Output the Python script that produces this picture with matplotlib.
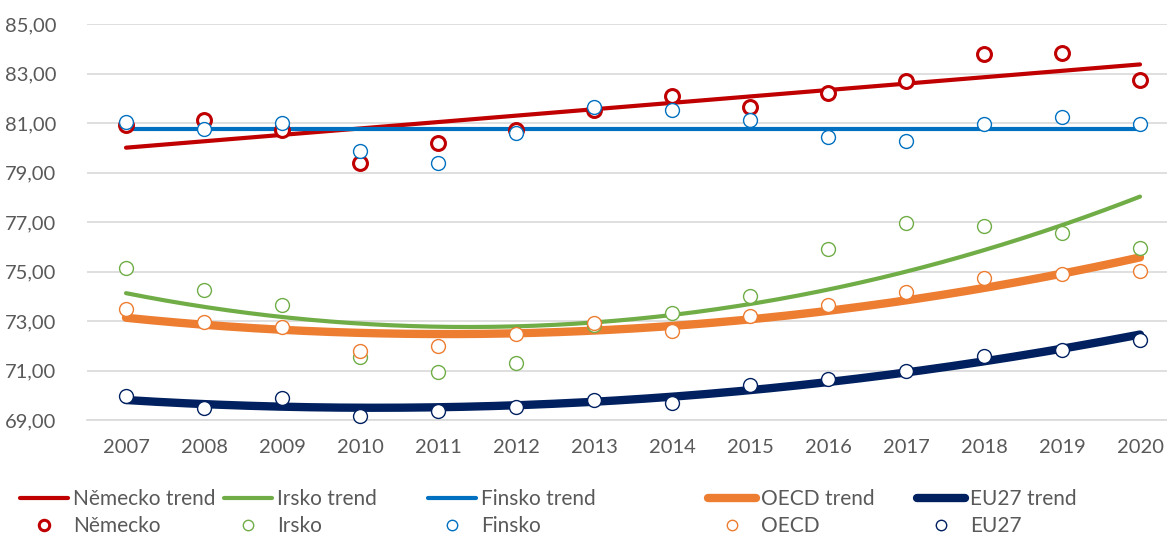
import numpy as np
import matplotlib.pyplot as plt
from matplotlib.ticker import FuncFormatter

plt.rcParams['font.family'] = ['Lato', 'DejaVu Sans']

years = np.arange(2007, 2021)

nemecko = [80.93, 81.13, 80.73, 79.38, 80.19, 80.73, 81.54,
           82.12, 81.67, 82.21, 82.70, 83.80, 83.84, 82.75]
irsko = [75.14, 74.24, 73.65, 71.55, 70.94, 71.30, 72.85,
         73.32, 74.00, 75.91, 76.95, 76.86, 76.58, 75.97]
finsko = [81.03, 80.75, 81.00, 79.89, 79.38, 80.60, 81.65,
          81.54, 81.13, 80.46, 80.30, 80.97, 81.24, 80.97]
oecd = [73.48, 72.98, 72.78, 71.81, 72.00, 72.49, 72.92,
        72.58, 73.19, 73.63, 74.17, 74.74, 74.91, 75.03]
eu27 = [69.98, 69.47, 69.87, 69.17, 69.38, 69.53, 69.82,
        69.69, 70.40, 70.67, 70.99, 71.60, 71.84, 72.24]

names = ['Německo', 'Irsko', 'Finsko', 'OECD', 'EU27']
series = [nemecko, irsko, finsko, oecd, eu27]
colors = ['#C00000', '#70AD47', '#0070C0', '#ED7D31', '#002060']
# trend type per series: polynomial degree (0 = average)
degrees = [1, 2, 0, 2, 2]
trend_lw = [3.0, 3.0, 3.0, 6.0, 6.0]
marker_mew = [2.2, 1.0, 1.0, 1.0, 1.0]

text_col = '#595959'
grid_col = '#D9D9D9'

W, H = 1167, 534
fig = plt.figure(figsize=(W / 100, H / 100), dpi=100)
ax = fig.add_axes([87 / W, (H - 420) / H, (1179 - 87) / W, (420 - 24.3) / H])

xs = np.linspace(years[0], years[-1], 200)
handles = []
for i, (name, vals, c) in enumerate(zip(names, series, colors)):
    vals = np.array(vals)
    if degrees[i] == 0:
        trend = np.full_like(xs, vals.mean())
    else:
        trend = np.polyval(np.polyfit(years, vals, degrees[i]), xs)
    ln, = ax.plot(xs, trend, color=c, lw=trend_lw[i], solid_capstyle='round',
                  zorder=2)
    mk, = ax.plot(years, vals, 'o', ms=10, mfc='white', mec=c,
                  mew=marker_mew[i], zorder=3 + i * 0.1, clip_on=False)
    handles.append((ln, mk))

ax.set_xlim(2006.5, 2020.5)
ax.set_ylim(69, 85)
ax.set_xticks(years)
ax.set_yticks(np.arange(69, 86, 2))
ax.yaxis.set_major_formatter(FuncFormatter(lambda v, p: f'{v:.2f}'.replace('.', ',')))
ax.tick_params(length=0, labelsize=14.5, labelcolor=text_col)
ax.tick_params(axis='x', pad=14)
ax.tick_params(axis='y', pad=22)
ax.grid(axis='y', color=grid_col, lw=1.2, zorder=0)
ax.set_axisbelow(True)
for s in ['top', 'right', 'left']:
    ax.spines[s].set_visible(False)
ax.spines['bottom'].set_color(grid_col)
ax.spines['bottom'].set_linewidth(1.2)

# legend: one column per country
leg_x = [20, 224, 428, 708, 917]
for (ln, mk), name, x in zip(handles, names, leg_x):
    leg = fig.legend([ln, mk], [name + ' trend', name], loc='center left',
                     bbox_to_anchor=(x / W, 1 - 512.5 / H), frameon=False,
                     borderpad=0, borderaxespad=0, handlelength=2.3,
                     handletextpad=0.25, labelspacing=0.35, fontsize=15,
                     labelcolor=text_col, markerscale=0.75)

fig.savefig('out.png', dpi=100)
